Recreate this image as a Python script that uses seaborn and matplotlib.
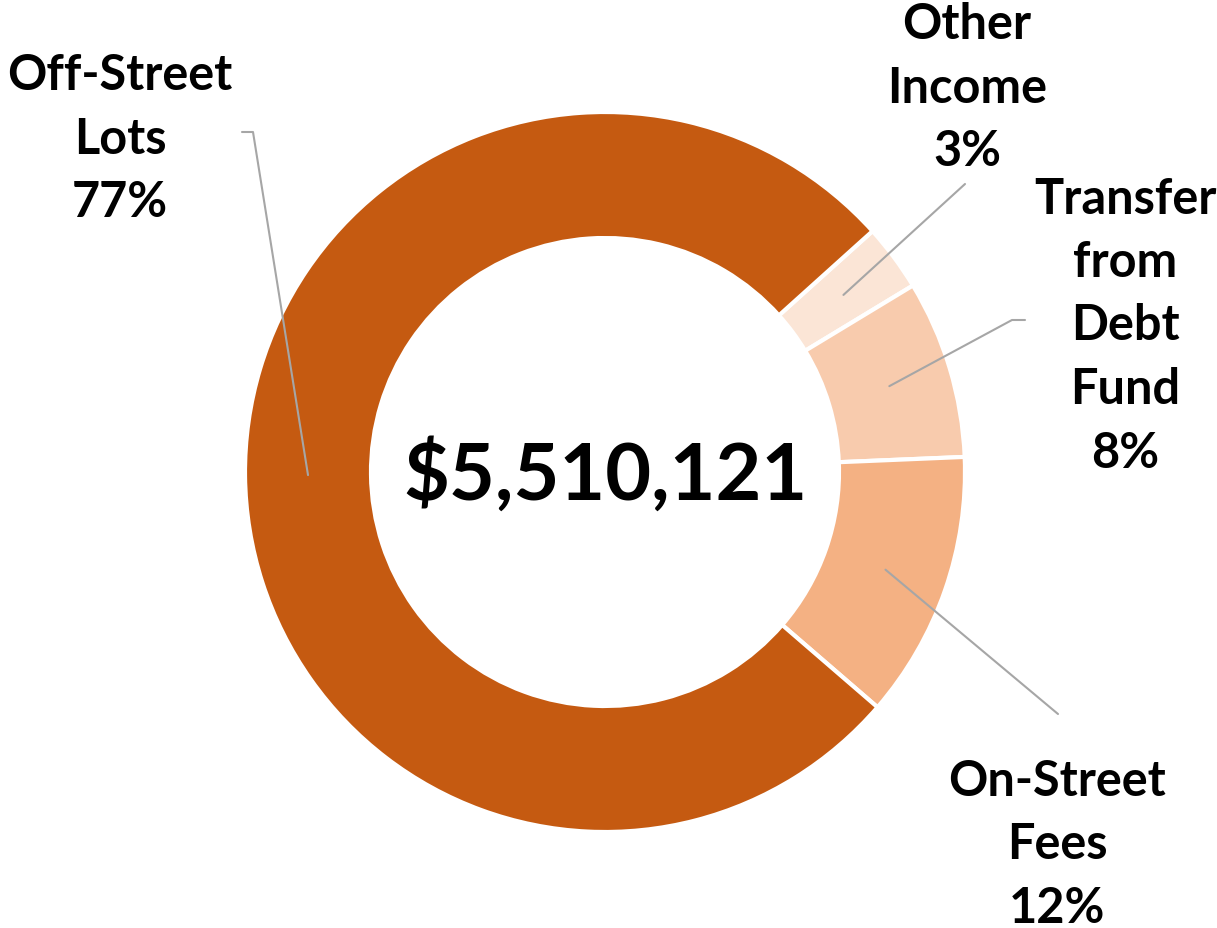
import numpy as np
import matplotlib
matplotlib.use("Agg")
import matplotlib.pyplot as plt
import seaborn as sns

# data (clockwise from the top right)
categories = ["Other\nIncome", "Transfer\nfrom\nDebt\nFund", "On-Street\nFees", "Off-Street\nLots"]
shares = [3, 8, 12, 77]
colors = ["#FBE5D6", "#F8CBAD", "#F4B183", "#C55A11"]
total_label = "$5,510,121"

sns.set_theme(style="white")
plt.rcParams["font.family"] = ["Lato", "DejaVu Sans"]

W, H = 1217, 929
fig = plt.figure(figsize=(W / 100, H / 100), dpi=100)
ax = fig.add_axes([0, 0, 1, 1])

cx, cy, R = 605, H - 473, 360
wedges, _ = ax.pie(shares, colors=colors, startangle=42, counterclock=False,
                   center=(cx, cy), radius=R, frame=True,
                   wedgeprops=dict(width=126, edgecolor="white", linewidth=3))
ax.set_xlim(0, W)
ax.set_ylim(0, H)
ax.axis("off")

ax.text(cx, cy - 3, total_label, ha="center", va="center",
        fontsize=57, fontweight="bold", color="black")

# label placement (image px: text centre, elbow, end of leader)
label_pos = [(967, 88), (1125, 326), (1057, 845), (120, 139)]
elbows = [None, (1012, 321), None, (253, 133)]
ends = [(965, 185), (1025, 321), (1058, 715), (242, 133)]

for w, cat, pct, lp, el, en in zip(wedges, categories, shares, label_pos, elbows, ends):
    mid = np.deg2rad((w.theta1 + w.theta2) / 2)
    ax_pt = (cx + 0.825 * R * np.cos(mid), cy + 0.825 * R * np.sin(mid))
    pts = [ax_pt]
    if el is not None:
        pts.append((el[0], H - el[1]))
    pts.append((en[0], H - en[1]))
    xs, ys = zip(*pts)
    ax.plot(xs, ys, color="#A6A6A6", lw=1.5)
    ax.text(lp[0], H - lp[1], f"{cat}\n{pct}%", ha="center", va="center",
            fontsize=35, fontweight="bold", linespacing=1.5, color="black")

fig.savefig("out.png", dpi=100)
